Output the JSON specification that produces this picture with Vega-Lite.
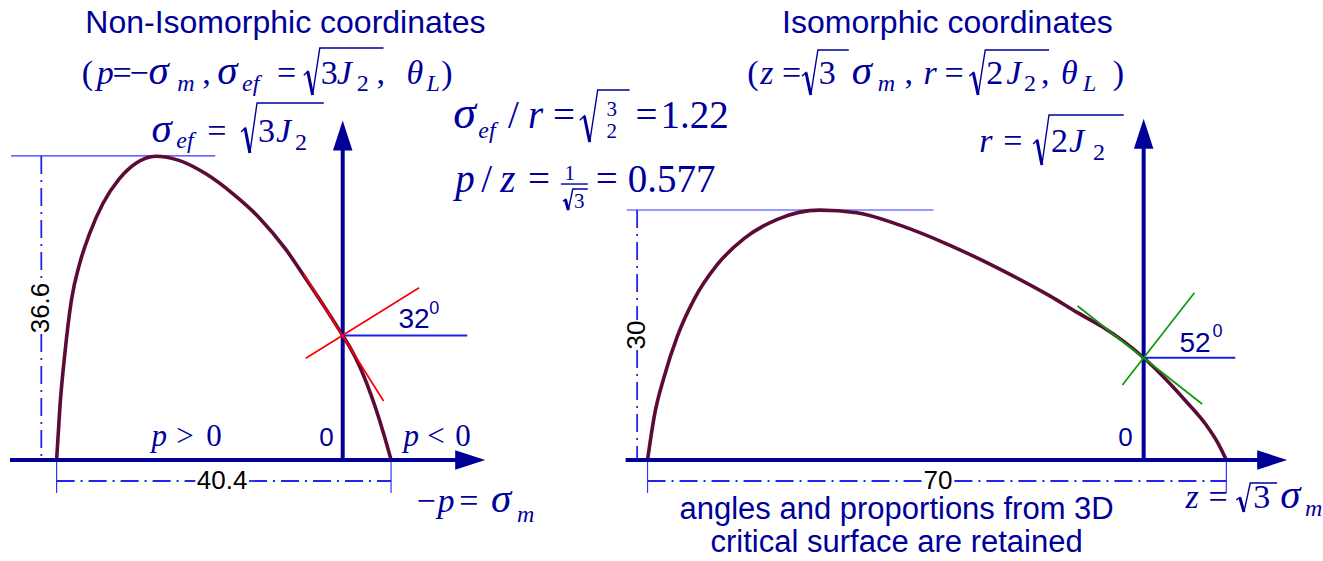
{
  "$schema": "https://vega.github.io/schema/vega-lite/v6.json",
  "width": 1323,
  "height": 561,
  "autosize": {"type": "fit", "contains": "padding"},
  "padding": 0,
  "background": "white",
  "config": {"view": {"stroke": null}},
  "datasets": {
    "curveL": [
      {"x": -34.6, "y": 0}, {"x": -34.2, "y": 6.4}, {"x": -33.6, "y": 12.85}, {"x": -32.8, "y": 19.3},
      {"x": -31.8, "y": 23.7}, {"x": -30.6, "y": 27.3}, {"x": -29.0, "y": 30.9}, {"x": -27.0, "y": 33.9},
      {"x": -25.0, "y": 35.75}, {"x": -22.6, "y": 36.6}, {"x": -19.8, "y": 36.1}, {"x": -16.5, "y": 34.45},
      {"x": -13.3, "y": 32.1}, {"x": -10.1, "y": 29.2}, {"x": -6.9, "y": 25.4}, {"x": -4.5, "y": 21.9},
      {"x": -2.1, "y": 18.3}, {"x": 0, "y": 15.0}, {"x": 1.0, "y": 13.35}, {"x": 2.0, "y": 11.4},
      {"x": 3.0, "y": 9.0}, {"x": 4.0, "y": 6.2}, {"x": 5.0, "y": 3.0}, {"x": 5.85, "y": 0}
    ],
    "curveR": [
      {"x": -60, "y": 0}, {"x": -59.2, "y": 5.2}, {"x": -58.0, "y": 10.0}, {"x": -56.4, "y": 14.9},
      {"x": -54.4, "y": 19.3}, {"x": -51.6, "y": 23.5}, {"x": -48.3, "y": 26.7}, {"x": -44.3, "y": 29.0},
      {"x": -39.2, "y": 30.1}, {"x": -34.7, "y": 29.8}, {"x": -29.5, "y": 28.3}, {"x": -23.5, "y": 25.9},
      {"x": -17.4, "y": 23.0}, {"x": -11.4, "y": 19.8}, {"x": -8.0, "y": 17.75}, {"x": -5.0, "y": 16.05},
      {"x": -2.5, "y": 14.35}, {"x": 0, "y": 12.32}, {"x": 2.5, "y": 9.9}, {"x": 5.0, "y": 7.2},
      {"x": 7.5, "y": 4.3}, {"x": 9.0, "y": 2.0}, {"x": 10, "y": 0}
    ],
    "axesL": [
      {"x": -40.24, "y": 0, "x2": 15.4, "y2": 0},
      {"x": 0, "y": 0, "x2": 0, "y2": 38.6}
    ],
    "axesR": [
      {"x": -62.65, "y": 0, "x2": 15.5, "y2": 0},
      {"x": 0, "y": 0, "x2": 0, "y2": 38.8}
    ],
    "arrowUpL": [{"x": 0, "y": 39.1}],
    "arrowRightL": [{"x": 15.42, "y": 0}],
    "arrowUpR": [{"x": 0, "y": 39.3}],
    "arrowRightR": [{"x": 15.54, "y": 0}],
    "thinL": [
      {"x": -40.12, "y": 36.63, "x2": -15.42, "y2": 36.63},
      {"x": -34.6, "y": 0, "x2": -34.6, "y2": -3.98},
      {"x": 5.85, "y": 0, "x2": 5.85, "y2": -3.98}
    ],
    "thinR": [
      {"x": -62.53, "y": 30.12, "x2": -25.42, "y2": 30.12},
      {"x": -60, "y": 0, "x2": -60, "y2": -3.98},
      {"x": 10, "y": 0, "x2": 10, "y2": -3.98}
    ],
    "dashL": [
      {"x": -36.45, "y": 36.63, "x2": -36.45, "y2": 21.45},
      {"x": -36.45, "y": 15.18, "x2": -36.45, "y2": 0},
      {"x": -34.6, "y": -2.53, "x2": -17.83, "y2": -2.53},
      {"x": -11.33, "y": -2.53, "x2": 5.85, "y2": -2.53}
    ],
    "dashR": [
      {"x": -61.26, "y": 30.12, "x2": -61.26, "y2": 16.87},
      {"x": -61.26, "y": 13.25, "x2": -61.26, "y2": 0},
      {"x": -60, "y": -2.53, "x2": -26.87, "y2": -2.53},
      {"x": -22.89, "y": -2.53, "x2": 10, "y2": -2.53}
    ],
    "redL": [
      {"x": -4.70, "y": 22.41, "x2": 4.94, "y2": 7.11},
      {"x": -4.46, "y": 12.25, "x2": 9.24, "y2": 20.76}
    ],
    "greenR": [
      {"x": -7.99, "y": 18.55, "x2": 7.07, "y2": 6.75},
      {"x": -2.57, "y": 9.04, "x2": 6.14, "y2": 20.16}
    ],
    "angleBaseL": [{"x": 0, "y": 15.0, "x2": 15.06, "y2": 15.0}],
    "angleBaseR": [{"x": 0, "y": 12.32, "x2": 11.08, "y2": 12.32}],
    "dimTextL": [{"x": -14.58, "y": -2.53, "t": "40.4"}],
    "dimTextRotL": [{"x": -36.45, "y": 18.31, "t": "36.6"}],
    "dimTextR": [{"x": -24.88, "y": -2.53, "t": "70"}],
    "dimTextRotR": [{"x": -61.26, "y": 15.06, "t": "30"}],
    "zeroL": [{"x": -1.1, "y": 1.69, "t": "0"}],
    "zeroR": [{"x": -1.33, "y": 1.69, "t": "0"}],
    "angleTextL": [{"x": 6.75, "y": 15.9, "t": "32"}],
    "angleSupL": [{"x": 10.48, "y": 17.59, "t": "0"}],
    "angleTextR": [{"x": 4.34, "y": 13.01, "t": "52"}],
    "angleSupR": [{"x": 8.31, "y": 14.82, "t": "0"}],
    "titleL": [{"x": -6.93, "y": 51.45, "t": "Non-Isomorphic coordinates"}],
    "titleR": [{"x": -23.73, "y": 51.45, "t": "Isomorphic coordinates"}],
    "noteR": [
      {"x": -29.88, "y": -7.1, "t": "angles and proportions from 3D"},
      {"x": -29.88, "y": -11.1, "t": "critical surface are retained"}
    ],
    "sigmaL": [
      {"x": -23.49, "y": 45.30, "t": "σ"}, {"x": -15.18, "y": 45.30, "t": "σ"},
      {"x": -23.13, "y": 38.31, "t": "σ"}, {"x": 17.95, "y": -6.26, "t": "σ"}
    ],
    "sigmaBigL": [{"x": 13.37, "y": 39.94, "t": "σ"}],
    "it34L": [
      {"x": -29.76, "y": 45.30, "t": "p"}, {"x": -0.72, "y": 45.30, "t": "J"}, {"x": 7.71, "y": 45.30, "t": "θ"},
      {"x": -8.07, "y": 38.31, "t": "J"}, {"x": 11.45, "y": -6.26, "t": "p"}
    ],
    "up34L": [
      {"x": -31.57, "y": 45.30, "t": "("}, {"x": -27.83, "y": 45.30, "t": "="}, {"x": -25.78, "y": 45.30, "t": "−"},
      {"x": -16.99, "y": 45.30, "t": ","}, {"x": -7.95, "y": 45.30, "t": "="}, {"x": -2.65, "y": 45.30, "t": "3"},
      {"x": 4.10, "y": 45.30, "t": ","}, {"x": 11.93, "y": 45.30, "t": ")"},
      {"x": -16.39, "y": 38.31, "t": "="}, {"x": -10.24, "y": 38.31, "t": "3"},
      {"x": 8.92, "y": -6.26, "t": "−"}, {"x": 14.10, "y": -6.26, "t": "="}
    ],
    "itSubL": [
      {"x": -20.00, "y": 44.46, "t": "m"}, {"x": -12.17, "y": 44.46, "t": "ef"}, {"x": 10.12, "y": 44.46, "t": "L"},
      {"x": -20.12, "y": 37.59, "t": "ef"}, {"x": 21.08, "y": -7.47, "t": "m"}, {"x": 16.39, "y": 38.79, "t": "ef"}
    ],
    "upSubL": [
      {"x": 1.69, "y": 44.46, "t": "2"}, {"x": -5.78, "y": 37.35, "t": "2"}
    ],
    "it39L": [
      {"x": 22.41, "y": 39.94, "t": "r"},
      {"x": 13.61, "y": 32.29, "t": "p"}, {"x": 19.04, "y": 32.29, "t": "z"}
    ],
    "up39L": [
      {"x": 20.00, "y": 39.94, "t": "/"}, {"x": 25.42, "y": 39.94, "t": "="}, {"x": 35.42, "y": 39.94, "t": "="},
      {"x": 38.43, "y": 39.94, "t": "1.22"},
      {"x": 16.75, "y": 32.29, "t": "/"}, {"x": 22.41, "y": 32.29, "t": "="}, {"x": 30.60, "y": 32.29, "t": "="},
      {"x": 34.46, "y": 32.29, "t": "0.577"}
    ],
    "smallL": [
      {"x": 32.53, "y": 41.45, "t": "3"}, {"x": 32.53, "y": 38.8, "t": "2"},
      {"x": 27.47, "y": 33.73, "t": "1"}, {"x": 28.61, "y": 30.36, "t": "3"}
    ],
    "it31L": [{"x": -23.13, "y": 1.69, "t": "p"}, {"x": 7.35, "y": 1.69, "t": "p"}],
    "up31L": [
      {"x": -20.12, "y": 1.69, "t": ">"}, {"x": -16.51, "y": 1.69, "t": "0"},
      {"x": 10.24, "y": 1.69, "t": "<"}, {"x": 13.61, "y": 1.69, "t": "0"}
    ],
    "barL": [{"x": 26.39, "y": 33.25, "x2": 29.64, "y2": 33.25}],
    "radL": [
      {"r": 1, "i": 1, "x": -4.70, "y": 46.35}, {"r": 1, "i": 2, "x": -4.22, "y": 46.81}, {"r": 1, "i": 3, "x": -3.64, "y": 43.98},
      {"r": 1, "i": 4, "x": -2.77, "y": 49.64}, {"r": 1, "i": 5, "x": 4.94, "y": 49.64},
      {"r": 2, "i": 1, "x": -12.29, "y": 39.52}, {"r": 2, "i": 2, "x": -11.81, "y": 40.00}, {"r": 2, "i": 3, "x": -11.23, "y": 36.99},
      {"r": 2, "i": 4, "x": -10.36, "y": 43.01}, {"r": 2, "i": 5, "x": -2.29, "y": 43.01},
      {"r": 3, "i": 1, "x": 28.67, "y": 40.94}, {"r": 3, "i": 2, "x": 29.22, "y": 41.45}, {"r": 3, "i": 3, "x": 29.87, "y": 38.31},
      {"r": 3, "i": 4, "x": 30.84, "y": 44.58}, {"r": 3, "i": 5, "x": 34.70, "y": 44.58},
      {"r": 4, "i": 1, "x": 26.63, "y": 31.18}, {"r": 4, "i": 2, "x": 26.93, "y": 31.39}, {"r": 4, "i": 3, "x": 27.29, "y": 30.12},
      {"r": 4, "i": 4, "x": 27.83, "y": 32.65}, {"r": 4, "i": 5, "x": 29.64, "y": 32.65}
    ],
    "sigmaR": [{"x": -35.30, "y": 45.30, "t": "σ"}, {"x": 16.51, "y": -5.78, "t": "σ"}],
    "it34R": [
      {"x": -46.38, "y": 45.30, "t": "z"}, {"x": -26.63, "y": 45.30, "t": "r"},
      {"x": -16.63, "y": 45.30, "t": "J"}, {"x": -10.00, "y": 45.30, "t": "θ"},
      {"x": -19.88, "y": 37.11, "t": "r"}, {"x": -9.04, "y": 37.11, "t": "J"},
      {"x": 5.06, "y": -5.78, "t": "z"}
    ],
    "up34R": [
      {"x": -47.95, "y": 45.30, "t": "("}, {"x": -43.73, "y": 45.30, "t": "="}, {"x": -39.28, "y": 45.30, "t": "3"},
      {"x": -28.92, "y": 45.30, "t": ","}, {"x": -24.10, "y": 45.30, "t": "="}, {"x": -19.04, "y": 45.30, "t": "2"},
      {"x": -12.41, "y": 45.30, "t": ","}, {"x": -3.73, "y": 45.30, "t": ")"},
      {"x": -16.99, "y": 37.11, "t": "="}, {"x": -11.20, "y": 37.11, "t": "2"},
      {"x": 7.83, "y": -5.78, "t": "="}, {"x": 13.25, "y": -5.78, "t": "3"}
    ],
    "itSubR": [
      {"x": -32.17, "y": 44.46, "t": "m"}, {"x": -7.35, "y": 44.46, "t": "L"}, {"x": 19.52, "y": -6.75, "t": "m"}
    ],
    "upSubR": [
      {"x": -14.46, "y": 44.46, "t": "2"}, {"x": -6.14, "y": 36.14, "t": "2"}
    ],
    "radR": [
      {"r": 5, "i": 1, "x": -41.32, "y": 46.25}, {"r": 5, "i": 2, "x": -40.84, "y": 46.69}, {"r": 5, "i": 3, "x": -40.26, "y": 43.98},
      {"r": 5, "i": 4, "x": -39.40, "y": 49.40}, {"r": 5, "i": 5, "x": -35.66, "y": 49.40},
      {"r": 6, "i": 1, "x": -21.08, "y": 46.25}, {"r": 6, "i": 2, "x": -20.60, "y": 46.69}, {"r": 6, "i": 3, "x": -20.02, "y": 43.98},
      {"r": 6, "i": 4, "x": -19.16, "y": 49.40}, {"r": 6, "i": 5, "x": -11.45, "y": 49.40},
      {"r": 7, "i": 1, "x": -13.37, "y": 38.07}, {"r": 7, "i": 2, "x": -12.89, "y": 38.55}, {"r": 7, "i": 3, "x": -12.31, "y": 35.54},
      {"r": 7, "i": 4, "x": -11.45, "y": 41.57}, {"r": 7, "i": 5, "x": -2.41, "y": 41.57},
      {"r": 8, "i": 1, "x": 11.20, "y": -4.80}, {"r": 8, "i": 2, "x": 11.63, "y": -4.52}, {"r": 8, "i": 3, "x": 12.13, "y": -6.26},
      {"r": 8, "i": 4, "x": 12.89, "y": -2.77}, {"r": 8, "i": 5, "x": 16.14, "y": -2.77}
    ]
  },
  "resolve": {"scale": {"x": "independent"}},
  "layer": [
    {
      "encoding": {
        "x": {"field": "x", "type": "quantitative", "scale": {"domain": [-41.446, 117.952], "nice": false, "zero": false}, "axis": null},
        "y": {"field": "y", "type": "quantitative", "scale": {"domain": [-12.169, 55.422], "nice": false, "zero": false}, "axis": null}
      },
      "layer": [
        {"data": {"name": "thinL"}, "mark": {"type": "rule", "color": "#3535ff", "strokeWidth": 1.2},
         "encoding": {"x2": {"field": "x2"}, "y2": {"field": "y2"}}},
        {"data": {"name": "dashL"}, "mark": {"type": "rule", "color": "#2323f0", "strokeWidth": 1.8, "strokeDash": [18, 6, 2, 6]},
         "encoding": {"x2": {"field": "x2"}, "y2": {"field": "y2"}}},
        {"data": {"name": "curveL"}, "mark": {"type": "line", "color": "#5c0a36", "strokeWidth": 3.6, "interpolate": "monotone"}},
        {"data": {"name": "axesL"}, "mark": {"type": "rule", "color": "#000099", "strokeWidth": 4},
         "encoding": {"x2": {"field": "x2"}, "y2": {"field": "y2"}}},
        {"data": {"name": "arrowUpL"}, "mark": {"type": "point", "shape": "M -0.65 1 L 0 -1 L 0.65 1 Z", "size": 900, "filled": true, "opacity": 1, "color": "#000099", "strokeWidth": 0}},
        {"data": {"name": "arrowRightL"}, "mark": {"type": "point", "shape": "M -1 -0.65 L 1 0 L -1 0.65 Z", "size": 900, "filled": true, "opacity": 1, "color": "#000099", "strokeWidth": 0}},
        {"data": {"name": "angleBaseL"}, "mark": {"type": "rule", "color": "#1d1de6", "strokeWidth": 2},
         "encoding": {"x2": {"field": "x2"}, "y2": {"field": "y2"}}},
        {"data": {"name": "redL"}, "mark": {"type": "rule", "color": "#ff0000", "strokeWidth": 1.7},
         "encoding": {"x2": {"field": "x2"}, "y2": {"field": "y2"}}},
        {"data": {"name": "barL"}, "mark": {"type": "rule", "color": "#000099", "strokeWidth": 1.4},
         "encoding": {"x2": {"field": "x2"}, "y2": {"field": "y2"}}},
        {"data": {"name": "radL"}, "mark": {"type": "line", "color": "#000099", "strokeWidth": 1.4},
         "encoding": {"detail": {"field": "r"}, "order": {"field": "i"}}},
        {"data": {"name": "radL"}, "transform": [{"filter": "datum.i == 2 || datum.i == 3"}],
         "mark": {"type": "line", "color": "#000099", "strokeWidth": 3},
         "encoding": {"detail": {"field": "r"}, "order": {"field": "i"}}},
        {"data": {"name": "titleL"}, "mark": {"type": "text", "font": "Liberation Sans", "fontSize": 32, "color": "#000099", "align": "center", "baseline": "alphabetic"},
         "encoding": {"text": {"field": "t"}}},
        {"data": {"name": "dimTextL"}, "mark": {"type": "text", "font": "Liberation Sans", "fontSize": 26, "color": "#000000", "align": "center", "baseline": "middle"},
         "encoding": {"text": {"field": "t"}}},
        {"data": {"name": "dimTextRotL"}, "mark": {"type": "text", "font": "Liberation Sans", "fontSize": 26, "color": "#000000", "align": "center", "baseline": "middle", "angle": 270},
         "encoding": {"text": {"field": "t"}}},
        {"data": {"name": "zeroL"}, "mark": {"type": "text", "font": "Liberation Sans", "fontSize": 26, "color": "#000099", "align": "right", "baseline": "alphabetic"},
         "encoding": {"text": {"field": "t"}}},
        {"data": {"name": "angleTextL"}, "mark": {"type": "text", "font": "Liberation Sans", "fontSize": 28, "color": "#000099", "align": "left", "baseline": "alphabetic"},
         "encoding": {"text": {"field": "t"}}},
        {"data": {"name": "angleSupL"}, "mark": {"type": "text", "font": "Liberation Sans", "fontSize": 18, "color": "#000099", "align": "left", "baseline": "alphabetic"},
         "encoding": {"text": {"field": "t"}}},
        {"data": {"name": "sigmaL"}, "mark": {"type": "text", "font": "Liberation Serif", "fontStyle": "italic", "fontSize": 41, "color": "#000099", "align": "left", "baseline": "alphabetic"},
         "encoding": {"text": {"field": "t"}}},
        {"data": {"name": "sigmaBigL"}, "mark": {"type": "text", "font": "Liberation Serif", "fontStyle": "italic", "fontSize": 46, "color": "#000099", "align": "left", "baseline": "alphabetic"},
         "encoding": {"text": {"field": "t"}}},
        {"data": {"name": "it34L"}, "mark": {"type": "text", "font": "Liberation Serif", "fontStyle": "italic", "fontSize": 34, "color": "#000099", "align": "left", "baseline": "alphabetic"},
         "encoding": {"text": {"field": "t"}}},
        {"data": {"name": "up34L"}, "mark": {"type": "text", "font": "Liberation Serif", "fontSize": 34, "color": "#000099", "align": "left", "baseline": "alphabetic"},
         "encoding": {"text": {"field": "t"}}},
        {"data": {"name": "itSubL"}, "mark": {"type": "text", "font": "Liberation Serif", "fontStyle": "italic", "fontSize": 24, "color": "#000099", "align": "left", "baseline": "alphabetic"},
         "encoding": {"text": {"field": "t"}}},
        {"data": {"name": "upSubL"}, "mark": {"type": "text", "font": "Liberation Serif", "fontSize": 24, "color": "#000099", "align": "left", "baseline": "alphabetic"},
         "encoding": {"text": {"field": "t"}}},
        {"data": {"name": "it39L"}, "mark": {"type": "text", "font": "Liberation Serif", "fontStyle": "italic", "fontSize": 39, "color": "#000099", "align": "left", "baseline": "alphabetic"},
         "encoding": {"text": {"field": "t"}}},
        {"data": {"name": "up39L"}, "mark": {"type": "text", "font": "Liberation Serif", "fontSize": 39, "color": "#000099", "align": "left", "baseline": "alphabetic"},
         "encoding": {"text": {"field": "t"}}},
        {"data": {"name": "smallL"}, "mark": {"type": "text", "font": "Liberation Serif", "fontSize": 21, "color": "#000099", "align": "center", "baseline": "alphabetic"},
         "encoding": {"text": {"field": "t"}}},
        {"data": {"name": "it31L"}, "mark": {"type": "text", "font": "Liberation Serif", "fontStyle": "italic", "fontSize": 31, "color": "#000099", "align": "left", "baseline": "alphabetic"},
         "encoding": {"text": {"field": "t"}}},
        {"data": {"name": "up31L"}, "mark": {"type": "text", "font": "Liberation Serif", "fontSize": 31, "color": "#000099", "align": "left", "baseline": "alphabetic"},
         "encoding": {"text": {"field": "t"}}}
      ]
    },
    {
      "encoding": {
        "x": {"field": "x", "type": "quantitative", "scale": {"domain": [-138.313, 21.084], "nice": false, "zero": false}, "axis": null},
        "y": {"field": "y", "type": "quantitative", "scale": {"domain": [-12.169, 55.422], "nice": false, "zero": false}, "axis": null}
      },
      "layer": [
        {"data": {"name": "thinR"}, "mark": {"type": "rule", "color": "#3535ff", "strokeWidth": 1.2},
         "encoding": {"x2": {"field": "x2"}, "y2": {"field": "y2"}}},
        {"data": {"name": "dashR"}, "mark": {"type": "rule", "color": "#2323f0", "strokeWidth": 1.8, "strokeDash": [18, 6, 2, 6]},
         "encoding": {"x2": {"field": "x2"}, "y2": {"field": "y2"}}},
        {"data": {"name": "curveR"}, "mark": {"type": "line", "color": "#5c0a36", "strokeWidth": 3.6, "interpolate": "monotone"}},
        {"data": {"name": "axesR"}, "mark": {"type": "rule", "color": "#000099", "strokeWidth": 4},
         "encoding": {"x2": {"field": "x2"}, "y2": {"field": "y2"}}},
        {"data": {"name": "arrowUpR"}, "mark": {"type": "point", "shape": "M -0.65 1 L 0 -1 L 0.65 1 Z", "size": 900, "filled": true, "opacity": 1, "color": "#000099", "strokeWidth": 0}},
        {"data": {"name": "arrowRightR"}, "mark": {"type": "point", "shape": "M -1 -0.65 L 1 0 L -1 0.65 Z", "size": 900, "filled": true, "opacity": 1, "color": "#000099", "strokeWidth": 0}},
        {"data": {"name": "angleBaseR"}, "mark": {"type": "rule", "color": "#1d1de6", "strokeWidth": 2},
         "encoding": {"x2": {"field": "x2"}, "y2": {"field": "y2"}}},
        {"data": {"name": "greenR"}, "mark": {"type": "rule", "color": "#0a9a0a", "strokeWidth": 1.7},
         "encoding": {"x2": {"field": "x2"}, "y2": {"field": "y2"}}},
        {"data": {"name": "radR"}, "mark": {"type": "line", "color": "#000099", "strokeWidth": 1.4},
         "encoding": {"detail": {"field": "r"}, "order": {"field": "i"}}},
        {"data": {"name": "radR"}, "transform": [{"filter": "datum.i == 2 || datum.i == 3"}],
         "mark": {"type": "line", "color": "#000099", "strokeWidth": 3},
         "encoding": {"detail": {"field": "r"}, "order": {"field": "i"}}},
        {"data": {"name": "titleR"}, "mark": {"type": "text", "font": "Liberation Sans", "fontSize": 32, "color": "#000099", "align": "center", "baseline": "alphabetic"},
         "encoding": {"text": {"field": "t"}}},
        {"data": {"name": "noteR"}, "mark": {"type": "text", "font": "Liberation Sans", "fontSize": 31, "color": "#000099", "align": "center", "baseline": "alphabetic"},
         "encoding": {"text": {"field": "t"}}},
        {"data": {"name": "dimTextR"}, "mark": {"type": "text", "font": "Liberation Sans", "fontSize": 26, "color": "#000000", "align": "center", "baseline": "middle"},
         "encoding": {"text": {"field": "t"}}},
        {"data": {"name": "dimTextRotR"}, "mark": {"type": "text", "font": "Liberation Sans", "fontSize": 26, "color": "#000000", "align": "center", "baseline": "middle", "angle": 270},
         "encoding": {"text": {"field": "t"}}},
        {"data": {"name": "zeroR"}, "mark": {"type": "text", "font": "Liberation Sans", "fontSize": 26, "color": "#000099", "align": "right", "baseline": "alphabetic"},
         "encoding": {"text": {"field": "t"}}},
        {"data": {"name": "angleTextR"}, "mark": {"type": "text", "font": "Liberation Sans", "fontSize": 28, "color": "#000099", "align": "left", "baseline": "alphabetic"},
         "encoding": {"text": {"field": "t"}}},
        {"data": {"name": "angleSupR"}, "mark": {"type": "text", "font": "Liberation Sans", "fontSize": 18, "color": "#000099", "align": "left", "baseline": "alphabetic"},
         "encoding": {"text": {"field": "t"}}},
        {"data": {"name": "sigmaR"}, "mark": {"type": "text", "font": "Liberation Serif", "fontStyle": "italic", "fontSize": 41, "color": "#000099", "align": "left", "baseline": "alphabetic"},
         "encoding": {"text": {"field": "t"}}},
        {"data": {"name": "it34R"}, "mark": {"type": "text", "font": "Liberation Serif", "fontStyle": "italic", "fontSize": 34, "color": "#000099", "align": "left", "baseline": "alphabetic"},
         "encoding": {"text": {"field": "t"}}},
        {"data": {"name": "up34R"}, "mark": {"type": "text", "font": "Liberation Serif", "fontSize": 34, "color": "#000099", "align": "left", "baseline": "alphabetic"},
         "encoding": {"text": {"field": "t"}}},
        {"data": {"name": "itSubR"}, "mark": {"type": "text", "font": "Liberation Serif", "fontStyle": "italic", "fontSize": 24, "color": "#000099", "align": "left", "baseline": "alphabetic"},
         "encoding": {"text": {"field": "t"}}},
        {"data": {"name": "upSubR"}, "mark": {"type": "text", "font": "Liberation Serif", "fontSize": 24, "color": "#000099", "align": "left", "baseline": "alphabetic"},
         "encoding": {"text": {"field": "t"}}}
      ]
    }
  ]
}
